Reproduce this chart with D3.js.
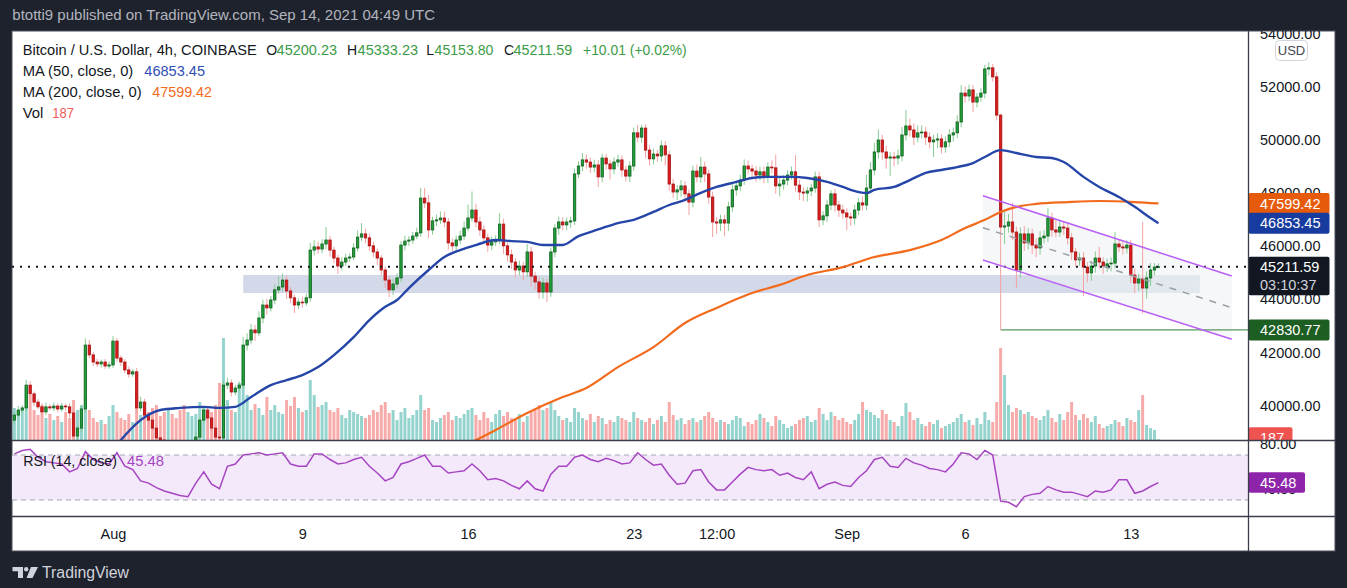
<!DOCTYPE html>
<html><head><meta charset="utf-8">
<script src="https://cdn.jsdelivr.net/npm/d3@7/dist/d3.min.js"></script>
<style>html,body{margin:0;padding:0;background:#1e222d;overflow:hidden}svg{display:block}</style>
</head><body>
<svg id="chart" width="1347" height="588"></svg>
<script>
// ================= DATA =================
// 4h candles, index 0 = 1 Aug 2021 00:00 UTC
const firstIndex = -25;
const firstOpen = 39430;
const closes = [
39620,39810,39890,40750,40420,40110,39930,39740,39930,39890,
39960,39850,39960,39930,39700,38830,39130,39850,42260,41890,
41620,41550,41620,41470,41510,42410,41770,41620,41320,41170,
41250,39890,40110,39620,39430,39130,38760,38680,38460,38570,
38310,38230,38000,37930,38310,38490,38790,39430,39810,39510,
39130,38790,38760,40750,40830,40490,40640,40750,42260,42450,
42830,42720,43280,43770,43660,43960,44340,44450,44710,44300,
44040,43770,43880,43850,44040,45840,45960,45880,46070,46220,
45840,45540,45240,45390,45540,45580,45920,46330,46450,46300,
46000,45770,45540,45090,44710,44340,44560,44790,46030,46180,
46220,46370,46490,47800,47620,46600,46940,46980,47050,46900,
46110,46000,46220,46370,46670,47050,47350,46900,46600,46300,
46030,46150,46220,46820,46000,45660,45390,45090,45240,45020,
45770,44860,44640,44260,44600,44260,45770,46670,46900,46790,
46900,46940,48710,49010,49240,49160,48970,49050,48600,49310,
49090,48900,49160,49240,48860,48630,49010,50260,50100,50440,
49610,49280,49460,49390,49770,49430,48330,48030,48110,48260,
47960,47650,48820,48600,48970,48710,47840,46900,46860,46980,
46860,47470,48110,48260,48480,49010,48900,48820,48670,48790,
48600,48970,48940,48260,48330,48480,48670,48790,48290,48030,
47990,48070,48180,48600,46980,47130,47540,47960,47540,47350,
47240,47090,47050,47350,47620,47540,48180,48860,49540,49990,
49540,49310,49350,49310,49390,50180,50520,50370,50100,50260,
50290,50100,49920,49990,50030,49730,49920,50180,50260,50670,
51760,51650,51880,51420,51610,51760,52670,52710,52370,50930,
46710,46750,46900,46520,45090,46450,46110,46450,46030,45920,
46300,46370,47050,46600,46520,46710,46670,46300,45770,45470,
45540,45200,44980,45240,45540,45390,45240,45320,45350,46070,
45960,45920,46030,44900,44600,44750,44410,44790,45090,45200.23,
45211.59];
const upperWick = [
120,150,100,200,150,90,110,130,160,100,
140,100,120,90,130,100,60,150,250,190,
100,120,90,110,130,190,120,100,110,130,
100,150,200,120,100,90,110,120,100,140,
120,100,110,130,150,120,200,140,150,120,
100,120,110,150,200,130,120,140,300,250,
220,180,250,200,230,150,200,400,250,180,
150,120,140,200,160,270,250,200,180,490,
150,130,120,180,160,140,180,250,410,200,
160,150,130,120,140,150,200,180,150,200,
150,160,200,380,380,300,160,200,250,240,
150,180,160,200,250,500,700,240,200,180,
160,200,180,410,200,180,200,150,200,160,
300,200,160,180,200,150,160,150,200,180,
160,150,200,180,260,200,160,200,180,170,
150,160,180,200,170,160,180,200,300,120,
150,180,200,170,200,180,160,200,180,220,
180,160,200,250,380,200,160,200,180,200,
180,200,220,180,200,250,200,160,180,200,
200,180,250,500,300,200,180,200,630,200,
180,150,160,200,200,180,200,140,180,160,
200,180,160,200,180,250,500,300,350,400,
200,220,180,200,250,300,600,280,250,280,
250,200,180,200,220,180,200,220,200,250,
300,250,200,180,150,200,150,210,150,180,
50,600,300,720,200,250,300,220,200,250,
250,220,370,200,380,230,220,200,180,150,
200,220,180,200,250,420,180,200,220,450,
150,200,180,200,250,200,2150,250,260,150,
121.64];
const lowerWick = [
150,100,120,140,110,160,90,200,120,100,
120,130,100,140,160,300,200,150,120,130,
150,120,140,110,100,100,130,150,120,140,
110,200,130,150,120,100,140,160,130,150,
140,160,120,180,130,110,120,150,130,140,
150,160,140,110,150,160,120,140,150,200,
160,300,120,200,250,140,160,150,180,300,
200,300,150,180,120,150,200,180,160,200,
250,200,300,160,140,150,120,130,150,200,
180,200,250,200,300,280,200,160,150,200,
180,150,120,150,200,300,180,200,160,200,
250,200,180,160,150,120,140,200,220,200,
250,200,150,160,300,250,260,280,200,300,
200,400,300,250,250,380,180,200,250,200,
200,220,150,160,200,250,230,200,380,200,
220,400,200,180,260,200,220,180,200,220,
300,250,200,220,200,400,250,220,300,250,
300,490,200,200,220,300,250,570,400,300,
500,300,200,220,200,180,200,220,250,200,
250,220,200,300,400,220,200,180,250,300,
300,320,200,180,270,200,220,200,250,260,
220,500,300,250,200,220,200,180,200,250,
300,400,680,300,250,200,220,250,300,200,
220,300,250,570,300,250,220,200,250,200,
200,250,200,380,200,180,200,250,180,200,
3880,640,250,300,680,300,300,250,340,340,
250,200,220,250,200,180,260,250,300,250,
220,1100,350,300,250,250,300,220,280,200,
200,250,200,300,380,300,960,400,300,200,
46.43];
const volumes = [
8000,7000,7500,13000,11250,7500,6250,8750,5500,6500,
5000,6000,4500,7000,5500,10000,7500,8750,10500,7500,
5500,4500,5000,4000,6000,8750,7000,5500,5000,6500,
4500,11250,6250,7500,7000,8000,8750,6000,7000,7500,
6500,5500,7500,8750,7000,6000,6500,9500,8000,6000,
7000,8750,14250,25500,10000,7500,7000,14250,16250,11250,
7500,9000,8000,6250,10750,7500,8750,7000,6500,10000,
8500,10750,8000,7000,7500,15000,11250,8250,8750,9500,
7500,7000,8000,6250,5500,7500,7000,6500,6000,5500,
6250,7500,7000,8750,9500,6750,7500,5000,7000,8000,
5500,6250,7500,11250,7500,8000,5000,4500,5500,6250,
7000,5000,6000,5500,6500,7500,8000,6250,5000,7000,
5500,4500,6500,7500,6000,7000,5500,5000,6500,4500,
6000,7000,7500,8750,7500,8000,9500,7500,6000,5000,
5500,4500,8000,7000,5500,5000,6500,4500,6000,5500,
4000,5000,4500,6000,5500,5000,4500,7000,5500,5000,
4500,5500,4000,5000,6000,4500,9500,6250,5000,5500,
4000,5000,5500,4500,5000,6000,7000,5500,4500,5000,
4500,4000,5000,6000,5500,3500,4500,4000,5000,6500,
5500,4500,3500,6000,5000,4000,3000,3500,4000,5000,
5500,6000,4500,5000,8000,6500,5000,7000,6000,5000,
5500,4500,4000,5000,6500,9500,7500,7000,6250,5500,
7500,6500,5000,4500,3500,6000,9250,7000,5000,5500,
4000,3500,4500,4000,5000,3000,3500,4000,4500,5500,
6500,4500,5000,3750,5500,4000,7000,5000,4500,9500,
23000,16250,8750,7000,8000,7500,6500,7000,6000,5500,
5000,6000,7500,5500,4500,6500,5000,7000,9500,6250,
5000,6500,5500,4500,6000,4000,3000,3500,4000,5000,
4500,3500,5500,5000,4500,7500,11250,3750,3000,2500,
187];
// RSI(14) read every 2 bars starting at index -25
const rsiStart = -25, rsiStep = 2;
const rsiValues = [
71,74,75,68,64,63,62,55,58,73,
66,63,62,72,60,57,47,45,41,38,
36,34,33,45,55,44,40,60,62,70,
71,72,70,71,72,62,60,60,71,71,
66,62,63,66,68,60,54,47,50,62,
64,67,70,60,60,54,55,56,62,56,
48,49,47,43,40,47,40,38,53,60,
60,68,70,66,64,67,65,62,63,72,
66,61,62,52,44,45,56,57,46,39,
39,46,53,59,57,56,57,52,54,50,
48,55,40,44,46,43,42,50,56,66,
68,60,59,67,63,61,58,57,55,62,
72,71,66,74,70,29,28,24,33,35,
36,42,39,37,37,35,33,38,37,39,
48,48,36,38,42,45.48];
const ma50Points = [[-4,37500],[2,38680],[7,39430],[12,39810],[17,39890],[23,39930],[27,39890],[31,39930],[35,40300],[40,40750],[44,40940],[48,41130],[52,41430],[56,41880],[61,42560],[65,43200],[69,43700],[72,43960],[75,44410],[80,45090],[84,45580],[88,45840],[92,46030],[97,46220],[101,46180],[105,46150],[109,46030],[114,46030],[118,46370],[121,46520],[124,46670],[128,46860],[132,46980],[137,47280],[141,47540],[145,47730],[149,48000],[153,48220],[158,48410],[162,48560],[166,48600],[172,48600],[176,48560],[181,48410],[185,48220],[189,48030],[191,47990],[193,48110],[198,48220],[202,48480],[206,48750],[210,48860],[214,48970],[218,49120],[221,49350],[225,49610],[229,49500],[234,49350],[238,49310],[241,49160],[246,48600],[250,48220],[255,47840],[259,47470],[263,47050],[265,46853.45]];
const ma200Points = [[85,38300],[92,38680],[97,39060],[105,39700],[114,40300],[120,40640],[128,41430],[137,42180],[145,43090],[153,43660],[162,44220],[169,44530],[176,44900],[185,45200],[193,45580],[202,45840],[210,46220],[216,46670],[221,46980],[225,47280],[229,47470],[234,47580],[242,47650],[250,47690],[259,47650],[265,47599.42]];
const priceTicks = [40000,42000,44000,46000,48000,50000,52000,54000];
const rsiTicks = [80,40];
const timeTickIndex = [0,48,90,132,153,186,216,258];
const timeTickLabels = ['Aug','9','16','23','12:00','Sep','6','13'];
const channelUpper = [[220.5,47890],[283.6,44864]];
const channelLower = [[220.5,45467],[283.6,42477]];
const channelMid = [[220.5,46685],[283.6,43668]];
const supportZone = [[33,44900],[275.5,44223]];
const lowLine = {from:225, price:42830.77};
const lastPrice = 45211.59, countdown = '03:10:37';
const ma50Last = 46853.45, ma200Last = 47599.42, lastVolume = 187, rsiLast = 45.48;
const lastOHLC = {O:'45200.23', H:'45333.23', L:'45153.80', C:'45211.59', chg:'+10.01 (+0.02%)'};
const headerText = 'btotti9 published on TradingView.com, Sep 14, 2021 04:49 UTC';
const symbolText = 'Bitcoin / U.S. Dollar, 4h, COINBASE';

// ================= LAYOUT =================
const svg = d3.select('#chart');
const FONT = '"Liberation Sans", Arial, sans-serif';
const L = 12, R = 1335, PR = 1248.5, T = 31, MB = 440.5, RB = 516.5, B = 551;
const C = {bg:'#1e222d', up:'#22a13a', upB:'#0f5e1e', dn:'#dc1d1d', dnB:'#a51313', upW:'#86cc93', dnW:'#f3a2a2',
  volUp:'#95d4ce', volDn:'#f6abaa', ma50:'#2545a8', ma200:'#f26a1c', rsi:'#a645c2', txt:'#131722', green:'#3b9b45'};

const xS = d3.scaleLinear().domain([0,265]).range([113, 113+265*3.945]);
const yS = d3.scaleLinear().domain([40000,52000]).range([405,86.7]);
const rS = d3.scaleLinear().domain([30,70]).range([500,455]);
const vS = d3.scaleLinear().domain([0,d3.max(volumes)]).range([440,338]);

const candles = closes.map((c,k)=>{
  const o = k===0 ? firstOpen : closes[k-1];
  return {i:k+firstIndex, o, c, h:Math.max(o,c)+upperWick[k], l:Math.min(o,c)-lowerWick[k], v:volumes[k]};
});

svg.append('rect').attr('width',1347).attr('height',588).attr('fill',C.bg);
svg.append('rect').attr('x',L).attr('y',T).attr('width',R-L).attr('height',B-T).attr('fill','#fff')
  .attr('stroke','#4a4e5a').attr('stroke-width',1);

const defs = svg.append('defs');
function clip(id,x,y,w,h){defs.append('clipPath').attr('id',id).append('rect').attr('x',x).attr('y',y).attr('width',w).attr('height',h);}
clip('main',L,T,PR-L,MB-T);
clip('rsi',L,MB,PR-L,RB-MB);
clip('paxis',PR,T,R-PR,MB-T);
clip('raxis',PR,MB+0.5,R-PR,RB-MB-0.5);

function txt(g,x,y,s,o={}){
  const t=g.append('text').attr('x',x).attr('y',y).attr('dy','0.35em').text(s)
    .attr('font-family',FONT).attr('font-size',o.fs||14).attr('fill',o.c||C.txt);
  if(o.len) t.attr('textLength',o.len).attr('lengthAdjust','spacingAndGlyphs');
  if(o.anchor) t.attr('text-anchor',o.anchor);
  if(o.fw) t.attr('font-weight',o.fw);
  return t;
}

// ---------- main pane ----------
const main = svg.append('g').attr('clip-path','url(#main)');
// volume
main.append('g').selectAll('rect').data(candles).join('rect')
  .attr('x',d=>xS(d.i)-1.5).attr('width',3)
  .attr('y',d=>vS(d.v)).attr('height',d=>Math.max(0.8,440-vS(d.v)))
  .attr('fill',d=>d.c>=d.o?C.volUp:C.volDn);
// support zone
main.append('rect').attr('x',xS(supportZone[0][0])).attr('y',yS(supportZone[0][1]))
  .attr('width',xS(supportZone[1][0])-xS(supportZone[0][0]))
  .attr('height',yS(supportZone[1][1])-yS(supportZone[0][1])).attr('fill','#d3d9e9');
// channel fill
const pt = p=>[xS(p[0]),yS(p[1])];
main.append('path').attr('d',d3.line()([pt(channelUpper[0]),pt(channelUpper[1]),pt(channelLower[1]),pt(channelLower[0])])+'Z')
  .attr('fill','#eef1f4').attr('fill-opacity',0.6);
// low line
main.append('line').attr('x1',xS(lowLine.from)).attr('x2',PR).attr('y1',yS(lowLine.price)).attr('y2',yS(lowLine.price))
  .attr('stroke','#2e7d32').attr('stroke-width',1);
// candles
const cg = main.append('g');
cg.selectAll('line').data(candles).join('line')
  .attr('x1',d=>xS(d.i)).attr('x2',d=>xS(d.i)).attr('y1',d=>yS(d.h)).attr('y2',d=>yS(d.l))
  .attr('stroke',d=>d.c>=d.o?C.upW:C.dnW).attr('stroke-width',1);
cg.selectAll('rect').data(candles).join('rect')
  .attr('x',d=>xS(d.i)-1.2).attr('width',2.4)
  .attr('y',d=>yS(Math.max(d.o,d.c))).attr('height',d=>Math.max(0.8,Math.abs(yS(d.o)-yS(d.c))))
  .attr('fill',d=>d.c>=d.o?C.up:C.dn).attr('stroke',d=>d.c>=d.o?C.upB:C.dnB).attr('stroke-width',0.8);
// dotted last price line
main.append('line').attr('x1',L).attr('x2',PR).attr('y1',yS(lastPrice)).attr('y2',yS(lastPrice))
  .attr('stroke','#131722').attr('stroke-width',2).attr('stroke-dasharray','2,6');
// moving averages
const maLine = d3.line().x(d=>xS(d[0])).y(d=>yS(d[1])).curve(d3.curveMonotoneX);
main.append('path').attr('d',maLine(ma200Points)).attr('fill','none').attr('stroke',C.ma200).attr('stroke-width',2.2);
main.append('path').attr('d',maLine(ma50Points)).attr('fill','none').attr('stroke',C.ma50).attr('stroke-width',2.4);
// channel lines
const ln = d3.line().x(d=>xS(d[0])).y(d=>yS(d[1]));
main.append('path').attr('d',ln(channelUpper)).attr('stroke','#b95ff5').attr('stroke-width',1.5).attr('fill','none');
main.append('path').attr('d',ln(channelLower)).attr('stroke','#b95ff5').attr('stroke-width',1.5).attr('fill','none');
main.append('path').attr('d',ln(channelMid)).attr('stroke','#9aa0a8').attr('stroke-width',1.5).attr('stroke-dasharray','7,7').attr('fill','none');

// ---------- RSI pane ----------
const rg = svg.append('g').attr('clip-path','url(#rsi)');
rg.append('rect').attr('x',L).attr('width',PR-L).attr('y',rS(70)).attr('height',rS(30)-rS(70)).attr('fill','#f4e9fa');
[70,30].forEach(v=>rg.append('line').attr('x1',L).attr('x2',PR).attr('y1',rS(v)).attr('y2',rS(v))
  .attr('stroke','#a3a6ae').attr('stroke-dasharray','5,4').attr('stroke-width',1));
rg.append('path').attr('d',d3.line().x((d,k)=>xS(rsiStart+k*rsiStep)).y(d=>rS(d))(rsiValues))
  .attr('fill','none').attr('stroke',C.rsi).attr('stroke-width',1.5);
txt(svg,23.2,460.7,'RSI (14, close)',{len:93.8});
txt(svg,127,460.7,String(rsiLast),{len:37,c:'#a645c2'});

// ---------- legend ----------
txt(svg,12.3,15,headerText,{len:422.7,c:'#b2b5be',fs:15});
txt(svg,22.7,50,symbolText,{len:234});
[['O',266.3,276.6,lastOHLC.O,60.4],['H',347,357.6,lastOHLC.H,60.4],['L',426.3,434.6,lastOHLC.L,58.7],['C',504,513.6,lastOHLC.C,58.7]]
  .forEach(([k,x1,x2,v,w])=>{txt(svg,x1,50,k);txt(svg,x2,50,v,{len:w,c:C.green});});
txt(svg,583,50,lastOHLC.chg,{len:103.7,c:C.green});
txt(svg,22.7,71,'MA (50, close, 0)',{len:110.6});
txt(svg,144.3,71,ma50Last.toFixed(2),{len:60.7,c:'#2f4fb5'});
txt(svg,22.7,92,'MA (200, close, 0)',{len:119});
txt(svg,152.3,92,ma200Last.toFixed(2),{len:59.7,c:'#f26a1c'});
txt(svg,22.7,113,'Vol',{len:20.6});
txt(svg,52.3,113,String(lastVolume),{len:21.7,c:'#f05a57'});

// ---------- price axis ----------
const pa = svg.append('g').attr('clip-path','url(#paxis)').append('g').attr('transform',`translate(${PR},0)`)
  .call(d3.axisRight(yS).tickValues(priceTicks).tickFormat(d3.format('.2f')).tickSize(0).tickPadding(11.5));
pa.select('.domain').remove();
pa.selectAll('text').attr('font-family',FONT).attr('font-size',14.5).attr('fill',C.txt).attr('dy','0.35em');
// USD badge
svg.append('rect').attr('x',1275.5).attr('y',40.5).attr('width',32).attr('height',20).attr('rx',4)
  .attr('fill','#fff').attr('stroke','#d1d4dc');
txt(svg,1291.5,50.7,'USD',{fs:13,anchor:'middle',c:'#434651'});

const ra = svg.append('g').attr('clip-path','url(#raxis)').append('g').attr('transform',`translate(${PR},0)`)
  .call(d3.axisRight(rS).tickValues(rsiTicks).tickFormat(d3.format('.2f')).tickSize(0).tickPadding(11.5));
ra.select('.domain').remove();
ra.selectAll('text').attr('font-family',FONT).attr('font-size',14.5).attr('fill',C.txt).attr('dy','0.35em');

// value badges
function badge(yc,h,w,fill,label,clipId){
  const g = svg.append('g'); if(clipId) g.attr('clip-path',`url(#${clipId})`);
  g.append('rect').attr('x',PR).attr('y',yc-h/2).attr('width',w).attr('height',h).attr('rx',2).attr('fill',fill);
  txt(g,1260,yc,label,{fs:14.5,c:'#fff'});
  return g;
}
badge(yS(ma200Last),21,81,'#e65a0c',ma200Last.toFixed(2));
badge(yS(ma50Last),21,81,'#173b9e',ma50Last.toFixed(2));
const lb = svg.append('g');
lb.append('rect').attr('x',PR).attr('y',yS(lastPrice)-10).attr('width',81).attr('height',38.5).attr('rx',2).attr('fill','#131722');
txt(lb,1260,yS(lastPrice),lastPrice.toFixed(2),{fs:14.5,c:'#fff'});
txt(lb,1260,yS(lastPrice)+18.3,countdown,{fs:14.5,c:'#d1d4dc'});
badge(yS(lowLine.price),21,81,'#1d5e22',lowLine.price.toFixed(2));
badge(vS(lastVolume)-1.5,21,44,'#ef5350',String(lastVolume),'paxis');
badge(rS(rsiLast),20.5,56.5,'#8e24aa',rsiLast.toFixed(2));

// ---------- time axis ----------
const ta = svg.append('g').call(d3.axisBottom(xS).tickValues(timeTickIndex).tickFormat((d,k)=>timeTickLabels[k]).tickSize(0));
ta.select('.domain').remove();
ta.selectAll('text').attr('y',533.5).attr('dy','0.35em').attr('font-family',FONT).attr('font-size',14.5).attr('fill',C.txt);

// ---------- separators ----------
const sep = svg.append('g').attr('stroke','#3a3e4a').attr('stroke-width',1.3);
sep.append('line').attr('x1',L).attr('x2',R).attr('y1',MB).attr('y2',MB);
sep.append('line').attr('x1',L).attr('x2',R).attr('y1',RB).attr('y2',RB);
sep.append('line').attr('x1',PR).attr('x2',PR).attr('y1',T).attr('y2',B);

// ---------- TradingView logo ----------
const lg = svg.append('g').attr('fill','#d1d4dc');
lg.append('path').attr('d','M12.5,567 H23 V578 H18 V571.2 H12.5 Z');
lg.append('circle').attr('cx',26.2).attr('cy',569.2).attr('r',2.2);
lg.append('path').attr('d','M31,567 H38 L32.5,578 H26.5 Z');
txt(svg,42,572,'TradingView',{len:87,fs:16,c:'#d1d4dc'});
</script>
</body></html>
